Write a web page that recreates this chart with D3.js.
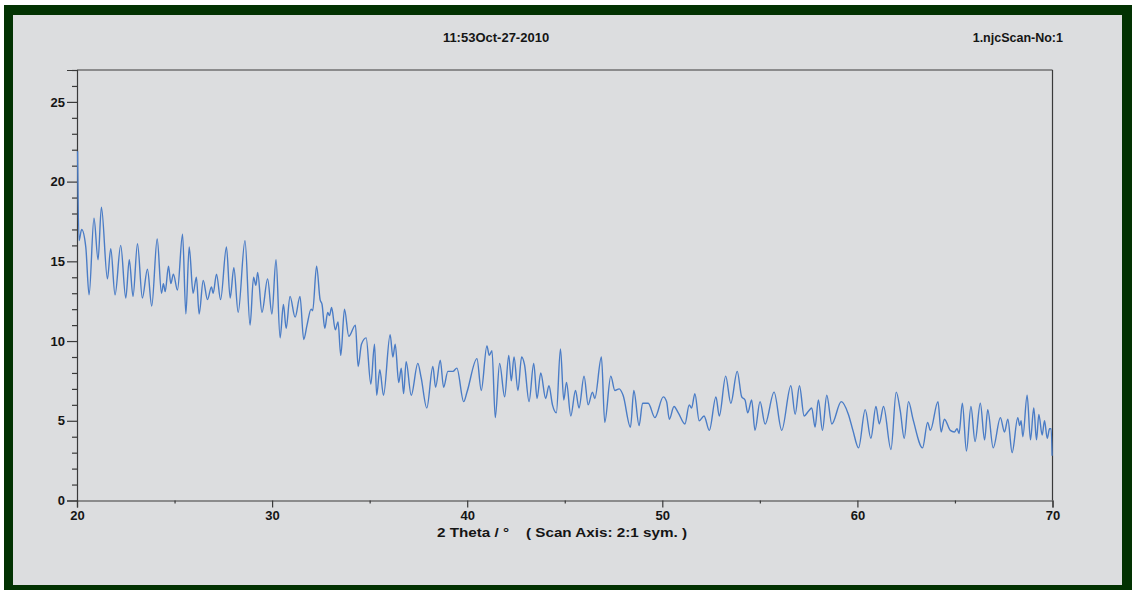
<!DOCTYPE html>
<html>
<head>
<meta charset="utf-8">
<script src="https://cdn.jsdelivr.net/npm/d3@7"></script>
<style>
  body { margin: 0; background: #ffffff; }
  svg { display: block; }
  .tick text { font-family: "Liberation Sans", Arial, sans-serif; font-weight: bold; }
</style>
</head>
<body>
<div id="chart"></div>
<script>
const WIDTH = 1132;
const HEIGHT = 590;

// scan data: 2 theta (deg) and counts
const theta = [
  20.03, 20.10, 20.24, 20.45, 20.62, 20.87, 21.08, 21.25, 21.56, 21.73, 21.95, 22.24, 22.50, 22.68, 22.87,
  23.10, 23.35, 23.61, 23.83, 24.11, 24.33, 24.43, 24.52, 24.69, 24.81, 24.94, 25.15, 25.41, 25.58, 25.75,
  25.95, 26.12, 26.26, 26.47, 26.69, 26.89, 26.98, 27.15, 27.36, 27.66, 27.85, 28.04, 28.26, 28.61, 28.87,
  29.05, 29.17, 29.26, 29.48, 29.77, 29.99, 30.20, 30.41, 30.58, 30.72, 30.92, 31.18, 31.43, 31.62, 31.79,
  32.00, 32.08, 32.28, 32.46, 32.56, 32.70, 32.85, 32.94, 33.05, 33.24, 33.38, 33.52, 33.71, 33.93, 34.27,
  34.41, 34.58, 34.82, 35.06, 35.25, 35.36, 35.52, 35.71, 36.05, 36.19, 36.31, 36.49, 36.62, 36.74, 36.87,
  37.13, 37.47, 37.64, 37.93, 38.24, 38.38, 38.62, 38.79, 39.01, 39.27, 39.47, 39.82, 39.99, 40.50, 40.72,
  41.01, 41.13, 41.27, 41.44, 41.66, 41.92, 42.13, 42.26, 42.40, 42.60, 42.79, 42.94, 43.17, 43.41, 43.58,
  43.77, 44.02, 44.19, 44.37, 44.57, 44.78, 44.95, 45.09, 45.31, 45.55, 45.73, 45.99, 46.20, 46.42, 46.54,
  46.88, 47.05, 47.36, 47.57, 47.79, 47.99, 48.37, 48.54, 48.81, 48.99, 49.28, 49.62, 50.05, 50.22, 50.36,
  50.60, 50.82, 51.16, 51.38, 51.50, 51.67, 51.89, 52.14, 52.41, 52.75, 52.92, 53.25, 53.51, 53.84, 54.07,
  54.24, 54.38, 54.58, 54.75, 55.01, 55.27, 55.73, 56.12, 56.59, 56.81, 57.03, 57.27, 57.49, 57.66, 57.83,
  58.00, 58.21, 58.43, 58.69, 59.17, 59.54, 59.77, 60.06, 60.40, 60.69, 60.95, 61.12, 61.34, 61.72, 61.99,
  62.20, 62.40, 62.62, 62.85, 63.34, 63.60, 63.74, 64.13, 64.29, 64.46, 64.76, 64.97, 65.11, 65.21, 65.38,
  65.59, 65.82, 66.03, 66.30, 66.52, 66.68, 66.96, 67.33, 67.54, 67.71, 67.93, 68.22, 68.32, 68.39, 68.48,
  68.70, 68.87, 69.04, 69.18, 69.30, 69.47, 69.59, 69.73, 69.85, 69.93, 69.98
];
const counts = [
  21.9, 16.3, 17.0, 15.9, 12.9, 17.7, 15.1, 18.4, 13.9, 15.8, 12.9, 16.0, 12.7, 15.1, 12.8,
  16.1, 12.7, 14.5, 12.2, 16.4, 13.0, 13.6, 13.1, 14.7, 13.6, 14.2, 13.2, 16.7, 11.7, 15.9,
  13.0, 14.0, 11.7, 13.8, 12.6, 13.4, 13.0, 14.2, 12.6, 15.9, 12.7, 14.6, 11.8, 16.3, 11.0,
  14.0, 13.5, 14.3, 11.8, 13.9, 11.7, 15.1, 10.2, 12.3, 10.8, 12.8, 11.5, 12.8, 10.1, 11.0,
  12.0, 11.9, 14.7, 12.6, 12.3, 10.8, 11.8, 11.6, 12.1, 10.7, 11.2, 9.1, 12.0, 10.3, 11.0,
  8.4, 9.8, 10.2, 7.3, 9.8, 6.6, 8.2, 6.6, 10.4, 9.0, 9.8, 7.4, 8.3, 6.7, 8.7,
  6.6, 8.6, 7.7, 5.8, 8.4, 7.1, 8.8, 7.1, 8.1, 8.1, 8.3, 6.2, 6.8, 8.9, 6.9,
  9.7, 9.1, 9.4, 5.2, 8.6, 6.5, 9.1, 7.5, 9.0, 6.9, 9.0, 8.5, 6.2, 8.6, 6.4,
  8.0, 6.4, 7.2, 6.0, 5.5, 9.5, 6.3, 7.4, 5.3, 6.9, 5.8, 7.8, 6.0, 6.8, 6.4,
  9.0, 4.9, 7.8, 6.9, 7.0, 6.6, 4.6, 6.9, 4.7, 6.1, 6.1, 5.2, 6.5, 6.2, 5.1,
  5.9, 5.5, 4.8, 6.0, 5.8, 6.7, 5.0, 5.3, 4.4, 6.5, 5.3, 7.8, 6.1, 8.1, 6.5,
  6.3, 5.5, 6.3, 4.4, 6.2, 4.8, 6.8, 4.4, 7.2, 5.4, 7.2, 5.3, 5.6, 5.8, 4.6,
  6.3, 4.4, 6.6, 4.8, 6.2, 5.4, 4.4, 3.3, 5.7, 3.9, 5.9, 4.8, 5.9, 3.2, 6.8,
  5.6, 3.9, 6.2, 5.1, 3.3, 4.9, 4.4, 6.2, 4.3, 5.1, 4.4, 4.3, 4.5, 4.2, 6.1,
  3.1, 5.9, 3.7, 6.1, 3.8, 5.7, 3.3, 5.2, 4.3, 5.1, 3.0, 5.2, 4.7, 5.0, 4.0,
  6.6, 3.8, 5.8, 3.8, 5.4, 4.1, 5.0, 3.9, 4.5, 4.5, 2.8
];

const xMajor = [20, 30, 40, 50, 60, 70];
const xMinor = [25, 35, 45, 55, 65];
const yMajor = [0, 5, 10, 15, 20, 25];
const yMinor = d3.range(0, 28).filter(d => d % 5 != 0);

const headerLeft = "11:53Oct-27-2010";
const headerRight = "1.njcScan-No:1";
const xTitle = "2 Theta / \u00b0    ( Scan Axis: 2:1 sym. )";

const svg = d3.select("#chart").append("svg")
    .attr("width", WIDTH)
    .attr("height", HEIGHT);

// green frame and the scanned paper
svg.append("rect")
    .attr("x", 4).attr("y", 5)
    .attr("width", WIDTH - 4).attr("height", HEIGHT - 5)
    .attr("fill", "#023202");
svg.append("rect")
    .attr("x", 13).attr("y", 15)
    .attr("width", 1109).attr("height", 570)
    .attr("fill", "#dcdddf");

const x = d3.scaleLinear().domain([20, 70]).range([77, 1052.5]);
const y = d3.scaleLinear().domain([0, 27]).range([500.5, 70]);

// frame top and right
svg.append("line")
    .attr("x1", x(20)).attr("x2", x(70))
    .attr("y1", y(27)).attr("y2", y(27))
    .attr("stroke", "#3a3a3a").attr("stroke-width", 1.2);
svg.append("line")
    .attr("x1", x(70)).attr("x2", x(70))
    .attr("y1", y(27)).attr("y2", y(0))
    .attr("stroke", "#3a3a3a").attr("stroke-width", 1.2);

// y axis, minor then major
svg.append("g")
    .attr("transform", "translate(" + x(20) + ",0)")
    .call(d3.axisLeft(y).tickValues(yMinor).tickSize(5).tickFormat(""))
    .call(g => g.select(".domain").remove());
const yAxis = svg.append("g")
    .attr("transform", "translate(" + x(20) + ",0)")
    .call(d3.axisLeft(y).tickValues(yMajor).tickSize(10).tickPadding(2));
yAxis.selectAll(".tick text").attr("font-size", 13).attr("fill", "#151515");

// x axis
svg.append("g")
    .attr("transform", "translate(0," + y(0) + ")")
    .call(d3.axisBottom(x).tickValues(xMinor).tickSize(3).tickFormat(""))
    .call(g => g.select(".domain").remove());
const xAxis = svg.append("g")
    .attr("transform", "translate(0," + y(0) + ")")
    .call(d3.axisBottom(x).tickValues(xMajor).tickSize(7).tickPadding(3));
xAxis.selectAll(".tick text").attr("font-size", 13).attr("fill", "#151515");

svg.selectAll(".tick line, .domain")
    .attr("stroke", "#3a3a3a").attr("stroke-width", 1.2);

// the scan line, with the first reading dropping straight from the axis
const points = theta.map((t, i) => [t, counts[i]]);
svg.append("path")
    .datum(points)
    .attr("fill", "none")
    .attr("stroke", "#4a7cc6")
    .attr("stroke-width", 1.4)
    .attr("d", d3.line()
        .x(d => x(d[0]))
        .y(d => y(d[1]))
        .curve(d3.curveMonotoneX));

// header and axis title
const txt = (s, px, py, anchor, size) => svg.append("text")
    .attr("x", px).attr("y", py)
    .attr("text-anchor", anchor)
    .attr("font-family", "Liberation Sans, Arial, sans-serif")
    .attr("font-weight", "bold")
    .attr("font-size", size)
    .attr("fill", "#151515")
    .style("white-space", "pre")
    .text(s);

txt(headerLeft, 496, 42, "middle", 13);
txt(headerRight, 1063, 42, "end", 12.5);
txt(xTitle, 437, 537, "start", 13.5)
    .attr("textLength", 250)
    .attr("lengthAdjust", "spacingAndGlyphs");
</script>
</body>
</html>
